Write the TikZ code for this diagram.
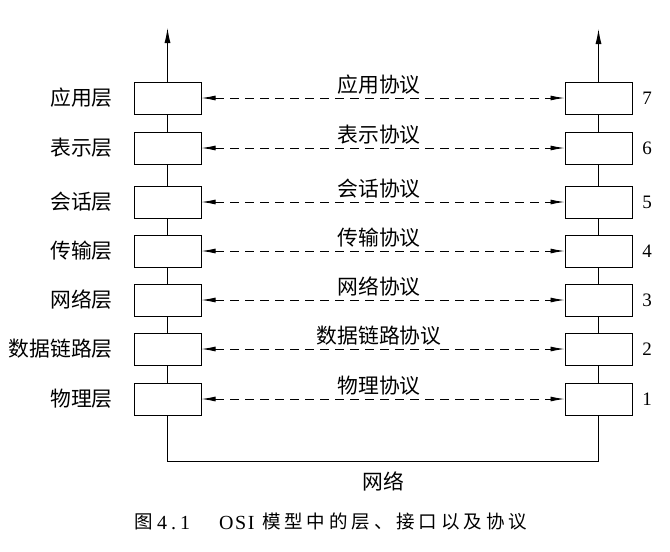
\documentclass[tikz,border=0pt]{standalone}
\usepackage{fontspec}
\setmainfont{Liberation Serif}
\newfontfamily\cjk{Noto Sans CJK SC}
\usetikzlibrary{arrows.meta}
\begin{document}
\begin{tikzpicture}[x=1pt,y=-1pt,
  layerbox/.style={draw, line width=1pt, minimum width=67pt, minimum height=32pt, inner sep=0pt},
  proto/.style={line width=0.9pt, dash pattern=on 9pt off 6pt,
     {Latex[length=14pt,width=5pt]}-{Latex[length=14pt,width=5pt]}},
  lab/.style={font=\cjk\fontsize{20.8}{24}\selectfont, inner sep=0pt},
  num/.style={font=\fontsize{19}{22}\selectfont, inner sep=0pt},
  capcjk/.style={font=\cjk\fontsize{18.5}{22}\selectfont\addfontfeature{LetterSpace=21}, inner sep=0pt, anchor=west},
  caplat/.style={font=\fontsize{20}{22}\selectfont\addfontfeature{LetterSpace=#1}, inner sep=0pt, anchor=west},
  link/.style={line width=0.9pt},
  uparrow/.style={line width=0.9pt, -{Latex[length=15pt,width=6pt]}}]
\useasboundingbox (0,0) rectangle (670,552);
\foreach \i/\y/\lname/\pname in {7/98/应用层/应用协议, 6/148/表示层/表示协议, 5/202/会话层/会话协议,
    4/251/传输层/传输协议, 3/300/网络层/网络协议, 2/349/数据链路层/数据链路协议, 1/399/物理层/物理协议} {
  \node[layerbox] (L\i) at (167.5,\y) {};
  \node[layerbox] (R\i) at (598.5,\y) {};
  \node[lab, anchor=east] (LN\i) at (113,\y) {\lname};
  \node[lab] (PN\i) at (379,\y-13) {\pname};
  \node[num] (N\i) at (647,\y) {\i};
  \draw[proto] (L\i.east) -- (R\i.east -| R\i.west);
}
\foreach \a/\b in {7/6,6/5,5/4,4/3,3/2,2/1} {
  \draw[link] (L\a.south) -- (L\b.north);
  \draw[link] (R\a.south) -- (R\b.north);
}
\coordinate (LT) at (167.5,28);
\coordinate (RT) at (598.5,29);
\draw[uparrow] (L7.north) -- (LT);
\draw[uparrow] (R7.north) -- (RT);
\draw[link] (L1.south) -- ++(0,46) -| (R1.south);
\node[lab] (net) at (383,481) {网络};
\node[capcjk] (cap1) at (134,522) {图};
\node[caplat=20] (cap2) at (157,523) {4.1};
\node[caplat=8] (cap3) at (219,523) {OSI};
\node[capcjk] (cap4) at (262,522) {模型中的层、接口以及协议};
\end{tikzpicture}
\end{document}
